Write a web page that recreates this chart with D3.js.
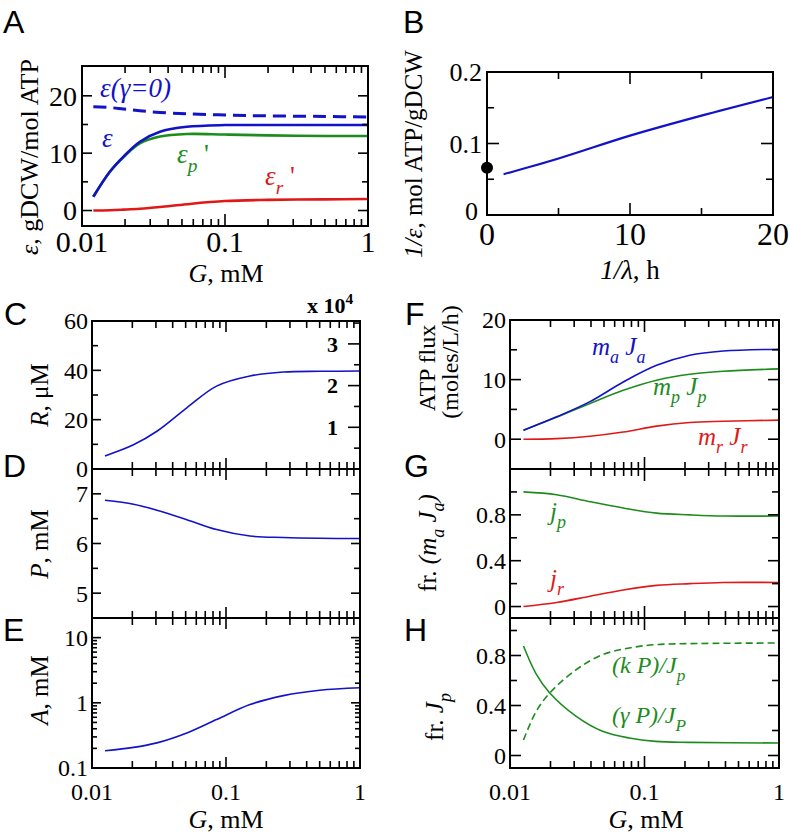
<!DOCTYPE html>
<html><head><meta charset="utf-8">
<script src="https://cdn.jsdelivr.net/npm/d3@7"></script>
<style>
body{margin:0;background:#fff}
svg{display:block}
text{font-family:"Liberation Serif","Times New Roman",serif;fill:#000}
.plab{font-family:"Liberation Sans",Arial,sans-serif}
</style>
</head><body>
<svg id="c" width="789" height="838"></svg>
<script>
// ---------------- DATA ----------------
// Panel A: efficiency vs G
const gA      = [0.012, 0.0157, 0.0195, 0.0254, 0.0351, 0.054, 0.1, 0.2, 0.5, 1];
const epsA    = [2.4, 6.8, 9.4, 12.0, 13.75, 14.6, 14.9, 14.9, 14.9, 14.9];
const epsPA   = [2.4, 6.8, 9.3, 11.7, 12.9, 13.35, 13.25, 13.1, 13.0, 13.0];
const epsRA   = [0.0, 0.05, 0.15, 0.3, 0.6, 1.1, 1.65, 1.85, 1.95, 2.0];
const eps0A   = [18.1, 17.95, 17.7, 17.4, 17.1, 16.85, 16.65, 16.5, 16.4, 16.3];
// Panel B: 1/eps vs 1/lambda
const invLamB = [1.16, 5, 10, 15, 20];
const invEpsB = [0.057, 0.079, 0.111, 0.139, 0.165];
const dotB    = [0, 0.066];
// Panels C, D, E
const gCDE    = [0.0125, 0.0204, 0.0305, 0.051, 0.085, 0.151, 0.268, 0.5, 1];
const rC      = [5.3, 9.8, 15.3, 24.8, 33.6, 37.7, 39.3, 39.6, 39.7];
const pD      = [6.87, 6.79, 6.67, 6.48, 6.28, 6.15, 6.12, 6.105, 6.10];
const aE      = [0.184, 0.207, 0.243, 0.345, 0.553, 0.94, 1.29, 1.56, 1.70];
// Panels F, G
const gFG     = [0.0126, 0.0222, 0.0393, 0.0695, 0.123, 0.217, 0.385, 1];
const maJaF   = [1.5, 3.75, 6.3, 9.6, 12.4, 14.1, 14.8, 15.1];
const mpJpF   = [1.5, 3.7, 6.0, 8.2, 9.9, 10.9, 11.4, 11.8];
const mrJrF   = [0.0, 0.1, 0.5, 1.2, 2.2, 2.8, 3.0, 3.2];
const jpG     = [1.0, 0.975, 0.915, 0.86, 0.815, 0.80, 0.79, 0.79];
const jrG     = [0.0, 0.035, 0.09, 0.145, 0.185, 0.20, 0.21, 0.21];
// Panel H
const gH      = [0.0126, 0.0156, 0.0196, 0.0309, 0.0487, 0.077, 0.121, 0.214, 1];
const gammaPH = [0.876, 0.655, 0.504, 0.315, 0.194, 0.14, 0.113, 0.105, 0.1];
const kPH     = [0.124, 0.35, 0.496, 0.685, 0.806, 0.86, 0.887, 0.895, 0.9];
// tick labels
const logLabels = ["0.01", "0.1", "1"];

// ---------------- HELPERS ----------------
const BLUE = "#1212c8", GREEN = "#1d8c1d", RED = "#e01818";
const svg = d3.select("#c");

function rich(sel, parts, size, attrs) {
  const t = sel.append("text").attr("font-size", size);
  for (const k in attrs) t.attr(k, attrs[k]);
  let off = 0;
  parts.forEach(([s, st]) => {
    st = st || "";
    const sp = t.append("tspan").text(s);
    let target = 0, fs = size;
    if (st.includes("_")) { target = size * 0.32; fs = size * 0.72; }
    if (st.includes("^")) { target = -size * 0.42; fs = size * 0.7; }
    sp.attr("dy", target - off); off = target;
    sp.attr("font-size", fs);
    if (st.includes("i")) sp.attr("font-style", "italic");
    if (st.includes("b")) sp.attr("font-weight", "bold");
  });
  return t;
}

function tickLines(g, side, scale, vals, len, box, sw) {
  vals.forEach(v => {
    const p = scale(v);
    let x1, y1, x2, y2;
    if (side === "bottom") { x1 = x2 = p; y1 = box.b; y2 = box.b - len; }
    if (side === "top")    { x1 = x2 = p; y1 = box.t; y2 = box.t + len; }
    if (side === "left")   { y1 = y2 = p; x1 = box.l; x2 = box.l + len; }
    if (side === "right")  { y1 = y2 = p; x1 = box.r; x2 = box.r - len; }
    g.append("line").attr("x1", x1).attr("y1", y1).attr("x2", x2).attr("y2", y2)
      .attr("stroke", "#000").attr("stroke-width", sw || 1.6);
  });
}

function logMinor(lo, hi) {
  const out = [];
  for (let d = lo; d < hi * 0.999; d *= 10)
    for (let k = 2; k <= 9; k++) if (k * d < hi * 0.999) out.push(k * d);
  return out;
}

function drawLine(g, xs, ys, xv, yv, color, width, dash) {
  const pts = xv.map((v, i) => [xs(v), ys(yv[i])]);
  const p = g.append("path").attr("d", d3.line().curve(d3.curveCatmullRom.alpha(0.5))(pts))
    .attr("fill", "none").attr("stroke", color).attr("stroke-width", width);
  if (dash) p.attr("stroke-dasharray", dash);
}

function frame(g, box) {
  g.append("rect").attr("x", box.l).attr("y", box.t).attr("width", box.r - box.l)
    .attr("height", box.b - box.t).attr("fill", "none").attr("stroke", "#000").attr("stroke-width", 2);
}

function yLabels(g, ys, vals, labels, x, size) {
  vals.forEach((v, i) => g.append("text").attr("x", x).attr("y", ys(v)).attr("dy", "0.35em")
    .attr("text-anchor", "end").attr("font-size", size).text(labels[i]));
}
function xLabels(g, xs, vals, labels, y, size) {
  vals.forEach((v, i) => g.append("text").attr("x", xs(v)).attr("y", y)
    .attr("text-anchor", "middle").attr("font-size", size).text(labels[i]));
}

function panelLetter(ch, x, y) {
  svg.append("text").attr("class", "plab").attr("x", x).attr("y", y)
    .attr("font-size", 32).text(ch);
}

const logMaj = [0.01, 0.1, 1];
const logMin = logMinor(0.01, 1);
function logTicksX(g, box, xs, maj, mn) {
  ["top", "bottom"].forEach(s => {
    tickLines(g, s, xs, logMaj, maj, box);
    tickLines(g, s, xs, logMin, mn, box);
  });
}

// ---------------- PANEL A ----------------
{
  const box = {l: 82, r: 368, t: 66, b: 226};
  const g = svg.append("g");
  const x = d3.scaleLog().domain([0.01, 1]).range([box.l, box.r]);
  const y = d3.scaleLinear().domain([-2.7, 25.2]).range([box.b, box.t]);
  drawLine(g, x, y, gA, eps0A, BLUE, 3, "13,7");
  drawLine(g, x, y, gA, epsRA, RED, 2.6);
  drawLine(g, x, y, gA, epsPA, GREEN, 2.6);
  drawLine(g, x, y, gA, epsA, BLUE, 2.6);
  frame(g, box);
  ["left", "right"].forEach(s => {
    tickLines(g, s, y, [0, 10, 20], 10, box);
    tickLines(g, s, y, [5, 15], 6, box);
  });
  logTicksX(g, box, x, 12, 7);
  yLabels(g, y, [0, 10, 20], ["0", "10", "20"], 77, 28);
  xLabels(g, x, logMaj, logLabels, 252, 30);
  rich(g, [["G", "i"], [", mM", ""]], 26, {x: 226, y: 282, "text-anchor": "middle"});
  rich(g, [["ε", "i"], [", gDCW/mol ATP", ""]], 26,
    {transform: "translate(38,157) rotate(-90)", "text-anchor": "middle"});
  rich(g, [["ε(γ=0)", "i"]], 27, {x: 100, y: 97}).selectAll("tspan").attr("fill", BLUE);
  rich(g, [["ε", "i"]], 27, {x: 102, y: 147}).selectAll("tspan").attr("fill", BLUE);
  rich(g, [["ε", "i"], ["p", "i_"], [" '", ""]], 27, {x: 177, y: 163}).selectAll("tspan").attr("fill", GREEN);
  rich(g, [["ε", "i"], ["r", "i_"], [" '", ""]], 27, {x: 265, y: 185}).selectAll("tspan").attr("fill", RED);
}

// ---------------- PANEL B ----------------
{
  const box = {l: 487, r: 773, t: 72, b: 215};
  const g = svg.append("g");
  const x = d3.scaleLinear().domain([0, 20]).range([box.l, box.r]);
  const y = d3.scaleLinear().domain([0, 0.2]).range([box.b, box.t]);
  drawLine(g, x, y, invLamB, invEpsB, BLUE, 2.2);
  frame(g, box);
  ["left", "right"].forEach(s => {
    tickLines(g, s, y, [0, 0.1, 0.2], 12, box);
    tickLines(g, s, y, [0.05, 0.15], 7, box);
  });
  ["top", "bottom"].forEach(s => {
    tickLines(g, s, x, [0, 10, 20], 12, box);
    tickLines(g, s, x, [5, 15], 7, box);
  });
  g.append("circle").attr("cx", x(dotB[0])).attr("cy", y(dotB[1])).attr("r", 6).attr("fill", "#000");
  yLabels(g, y, [0.1, 0.2], ["0.1", "0.2"], 482, 26);
  g.append("text").attr("x", 478).attr("y", y(0)).attr("dy", "0.2em")
    .attr("text-anchor", "end").attr("font-size", 26).text("0");
  xLabels(g, x, [0, 10, 20], ["0", "10", "20"], 245, 32);
  rich(g, [["1/λ", "i"], [", h", ""]], 27, {x: 630, y: 279, "text-anchor": "middle"});
  rich(g, [["1/ε", "i"], [", mol ATP/gDCW", ""]], 25,
    {transform: "translate(422,154) rotate(-90)", "text-anchor": "middle"});
}

// ---------------- PANELS C, D, E ----------------
const xCDE = d3.scaleLog().domain([0.01, 1]).range([92, 360]);
{
  const box = {l: 92, r: 360, t: 321, b: 469};
  const g = svg.append("g");
  const y = d3.scaleLinear().domain([0, 60]).range([box.b, box.t]);
  const y2 = d3.scaleLinear().domain([0, 148 / 41.7]).range([box.b, box.t]);
  drawLine(g, xCDE, y, gCDE, rC, BLUE, 1.6);
  frame(g, box);
  tickLines(g, "left", y, [0, 20, 40, 60], 9, box);
  tickLines(g, "left", y, [10, 30, 50], 6, box);
  tickLines(g, "right", y2, [1, 2, 3], 12, box);
  tickLines(g, "right", y2, [0.5, 1.5, 2.5, 3.5], 6, box);
  logTicksX(g, box, xCDE, 11, 7);
  yLabels(g, y, [0, 20, 40, 60], ["0", "20", "40", "60"], 88, 24);
  [1, 2, 3].forEach(v => g.append("text").attr("x", 338).attr("y", y2(v)).attr("dy", "0.35em")
    .attr("text-anchor", "end").attr("font-size", 22).attr("font-weight", "bold").text(v));
  rich(g, [["x 10", "b"], ["4", "b^"]], 22, {x: 307, y: 313});
  rich(g, [["R", "i"], [", μM", ""]], 25, {transform: "translate(48,395) rotate(-90)", "text-anchor": "middle"});
}
{
  const box = {l: 92, r: 360, t: 469, b: 618};
  const g = svg.append("g");
  const y = d3.scaleLinear().domain([4.5, 7.5]).range([box.b, box.t]);
  drawLine(g, xCDE, y, gCDE, pD, BLUE, 1.6);
  frame(g, box);
  ["left", "right"].forEach(s => {
    tickLines(g, s, y, [5, 6, 7], 9, box);
    tickLines(g, s, y, [5.5, 6.5], 6, box);
  });
  logTicksX(g, box, xCDE, 11, 7);
  yLabels(g, y, [5, 6, 7], ["5", "6", "7"], 88, 24);
  rich(g, [["P", "i"], [", mM", ""]], 25, {transform: "translate(48,544) rotate(-90)", "text-anchor": "middle"});
}
{
  const box = {l: 92, r: 360, t: 618, b: 768};
  const g = svg.append("g");
  const y = d3.scaleLog().domain([0.1, 20]).range([box.b, box.t]);
  drawLine(g, xCDE, y, gCDE, aE, BLUE, 1.6);
  frame(g, box);
  const yMin = logMinor(0.1, 20);
  ["left", "right"].forEach(s => {
    tickLines(g, s, y, [0.1, 1, 10], 9, box);
    tickLines(g, s, y, yMin, 5, box);
  });
  logTicksX(g, box, xCDE, 11, 7);
  yLabels(g, y, [0.1, 1, 10], ["0.1", "1", "10"], 88, 24);
  xLabels(g, xCDE, logMaj, logLabels, 800, 24);
  rich(g, [["G", "i"], [", mM", ""]], 26, {x: 226, y: 828, "text-anchor": "middle"});
  rich(g, [["A", "i"], [", mM", ""]], 25, {transform: "translate(48,690) rotate(-90)", "text-anchor": "middle"});
}

// ---------------- PANELS F, G, H ----------------
const xFGH = d3.scaleLog().domain([0.01, 1]).range([510, 779]);
{
  const box = {l: 510, r: 779, t: 320, b: 469};
  const g = svg.append("g");
  const y = d3.scaleLinear().domain([-5, 20]).range([box.b, box.t]);
  drawLine(g, xFGH, y, gFG, mrJrF, RED, 1.6);
  drawLine(g, xFGH, y, gFG, mpJpF, GREEN, 1.6);
  drawLine(g, xFGH, y, gFG, maJaF, BLUE, 1.6);
  frame(g, box);
  ["left", "right"].forEach(s => {
    tickLines(g, s, y, [0, 10, 20], 11, box);
    tickLines(g, s, y, [5, 15], 7, box);
  });
  logTicksX(g, box, xFGH, 12, 7);
  yLabels(g, y, [0, 10, 20], ["0", "10", "20"], 506, 24);
  rich(g, [["ATP flux", ""]], 24, {transform: "translate(435,368) rotate(-90)", "text-anchor": "middle"});
  rich(g, [["(moles/L/h)", ""]], 24, {transform: "translate(458,362) rotate(-90)", "text-anchor": "middle"});
  rich(g, [["m", "i"], ["a", "i_"], [" J", "i"], ["a", "i_"]], 25, {x: 592, y: 355}).selectAll("tspan").attr("fill", BLUE);
  rich(g, [["m", "i"], ["p", "i_"], [" J", "i"], ["p", "i_"]], 25, {x: 653, y: 395}).selectAll("tspan").attr("fill", GREEN);
  rich(g, [["m", "i"], ["r", "i_"], [" J", "i"], ["r", "i_"]], 25, {x: 698, y: 445}).selectAll("tspan").attr("fill", RED);
}
{
  const box = {l: 510, r: 779, t: 469, b: 618};
  const g = svg.append("g");
  const y = d3.scaleLinear().domain([-0.1, 1.2]).range([box.b, box.t]);
  drawLine(g, xFGH, y, gFG, jrG, RED, 1.6);
  drawLine(g, xFGH, y, gFG, jpG, GREEN, 1.6);
  frame(g, box);
  ["left", "right"].forEach(s => {
    tickLines(g, s, y, [0, 0.4, 0.8], 11, box);
    tickLines(g, s, y, [0.2, 0.6, 1.0], 7, box);
  });
  logTicksX(g, box, xFGH, 12, 7);
  yLabels(g, y, [0, 0.4, 0.8], ["0", "0.4", "0.8"], 506, 24);
  rich(g, [["fr. ", ""], ["(m", "i"], ["a", "i_"], [" J", "i"], ["a", "i_"], [")", "i"]], 25,
    {transform: "translate(436,543) rotate(-90)", "text-anchor": "middle"});
  rich(g, [["j", "i"], ["p", "i_"]], 25, {x: 550, y: 520}).selectAll("tspan").attr("fill", GREEN);
  rich(g, [["j", "i"], ["r", "i_"]], 25, {x: 550, y: 587}).selectAll("tspan").attr("fill", RED);
}
{
  const box = {l: 510, r: 779, t: 618, b: 768};
  const g = svg.append("g");
  const y = d3.scaleLinear().domain([-0.1, 1.1]).range([box.b, box.t]);
  drawLine(g, xFGH, y, gH, kPH, GREEN, 1.6, "7,4");
  drawLine(g, xFGH, y, gH, gammaPH, GREEN, 1.6);
  frame(g, box);
  ["left", "right"].forEach(s => {
    tickLines(g, s, y, [0, 0.4, 0.8], 11, box);
    tickLines(g, s, y, [0.2, 0.6, 1.0], 7, box);
  });
  logTicksX(g, box, xFGH, 12, 7);
  yLabels(g, y, [0, 0.4, 0.8], ["0", "0.4", "0.8"], 506, 24);
  xLabels(g, xFGH, logMaj, logLabels, 800, 24);
  rich(g, [["G", "i"], [", mM", ""]], 26, {x: 646, y: 828, "text-anchor": "middle"});
  rich(g, [["fr. ", ""], ["J", "i"], ["p", "i_"]], 25,
    {transform: "translate(443,717) rotate(-90)", "text-anchor": "middle"});
  rich(g, [["(k P)/J", "i"], ["p", "i_"]], 24, {x: 612, y: 673}).selectAll("tspan").attr("fill", GREEN);
  rich(g, [["(γ P)/J", "i"], ["P", "i_"]], 24, {x: 612, y: 723}).selectAll("tspan").attr("fill", GREEN);
}

// ---------------- PANEL LETTERS ----------------
panelLetter("A", 3, 33);
panelLetter("B", 403, 33);
panelLetter("C", 4, 325);
panelLetter("D", 3, 477);
panelLetter("E", 3, 641);
panelLetter("F", 405, 325);
panelLetter("G", 404, 477);
panelLetter("H", 404, 641);
</script>
</body></html>
